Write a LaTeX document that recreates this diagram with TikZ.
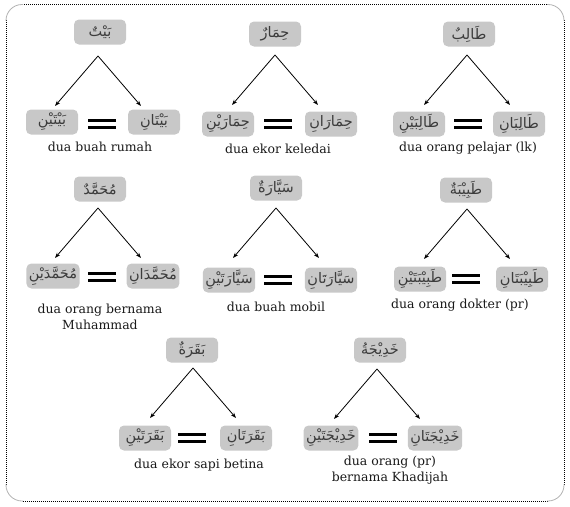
\documentclass[tikz,border=0pt]{standalone}
\usepackage{fontspec}
\setmainfont{DejaVu Serif}
\newfontfamily\arabicfont[Script=Arabic]{DejaVu Sans}
\TeXXeTstate=1
\usetikzlibrary{arrows.meta}
\definecolor{boxgray}{RGB}{200,200,200}
\definecolor{arabgray}{RGB}{60,60,60}
\tikzset{
  wordbox/.style={fill=boxgray, rounded corners=5pt, minimum width=52pt, minimum height=25pt,
    inner sep=2.5pt, text=arabgray, font=\arabicfont\fontsize{14.5}{16}\selectfont},
  arr/.style={-{Stealth[length=5.5pt,width=4pt]}, line width=0.8pt},
  caption/.style={font=\fontsize{12.5}{15.5}\selectfont, align=center, text=black!90, inner sep=0pt},
  eqsign/.style={minimum width=27pt, minimum height=9pt, inner sep=0pt},
  framedots/.style={line width=0.8pt, dash pattern=on 0.8pt off 1.2pt},
  framecorner/.style={line width=0.8pt, black!30}
}
% #1 id, #2 top pos, #3 apex, #4 left pos, #5 right pos, #6 equals pos, #7 top, #8 left, #9 right
\newcommand{\dualgrp}[9]{%
  \node[wordbox] (#1t) at #2 {\beginR #7\endR};
  \coordinate (#1a) at #3;
  \path (#1a) ++(-43,50) coordinate (#1la);
  \path (#1a) ++(43,50) coordinate (#1ra);
  \node[wordbox] (#1l) at #4 {\beginR #8\endR};
  \node[wordbox] (#1r) at #5 {\beginR #9\endR};
  \node[eqsign] (#1e) at #6 {};
  \fill (#1e.north west) rectangle ([yshift=-2.7pt]#1e.north east);
  \fill ([yshift=2.7pt]#1e.south west) rectangle (#1e.south east);
  \draw[arr] (#1a) -- (#1la);
  \draw[arr] (#1a) -- (#1ra);
}
\begin{document}
\begin{tikzpicture}[x=1pt,y=-1pt]
\useasboundingbox (0,0) rectangle (570,506);
% frame
\draw[framedots] (22,4.5) -- (548,4.5);
\draw[framedots] (564,20) -- (564,485);
\draw[framedots] (548,501) -- (22,501);
\draw[framedots] (6,485) -- (6,20);
\draw[framecorner, rounded corners=16pt] (6,21) -- (6,4.5) -- (23,4.5);
\draw[framecorner, rounded corners=16pt] (547,4.5) -- (564,4.5) -- (564,21);
\draw[framecorner, rounded corners=16pt] (564,484) -- (564,501) -- (547,501);
\draw[framecorner, rounded corners=16pt] (23,501) -- (6,501) -- (6,484);

\dualgrp{g1}{(100,32)}{(98,56)}{(52,122)}{(154,122)}{(102,124)}{بَيْتٌ}{بَيْتَيْنِ}{بَيْتَانِ}
\node[caption] (c1) at (100,147) {dua buah rumah};

\dualgrp{g2}{(275,34)}{(275,55)}{(228,124)}{(331,124)}{(278,124)}{حِمَارٌ}{حِمَارَيْنِ}{حِمَارَانِ}
\node[caption] (c2) at (278,149) {dua ekor keledai};

\dualgrp{g3}{(469,34)}{(467,55)}{(419,124)}{(519,124)}{(468,124)}{طَالِبٌ}{طَالِبَيْنِ}{طَالِبَانِ}
\node[caption] (c3) at (468,148) {dua orang pelajar (lk)};

\dualgrp{g4}{(100,189)}{(98,208)}{(53,276)}{(153,276)}{(102,277)}{مُحَمَّدٌ}{مُحَمَّدَيْنِ}{مُحَمَّدَانِ}
\node[caption] (c4) at (100,317) {dua orang bernama\\Muhammad};

\dualgrp{g5}{(276,188)}{(276,208)}{(229,280)}{(331,280)}{(278,280)}{سَيَّارَةٌ}{سَيَّارَتَيْنِ}{سَيَّارَتَانِ}
\node[caption] (c5) at (276,307) {dua buah mobil};

\dualgrp{g6}{(466,190)}{(467,209)}{(420,279)}{(522,279)}{(466,279)}{طَبِيْبَةٌ}{طَبِيْبَتَيْنِ}{طَبِيْبَتَانِ}
\node[caption] (c6) at (460,305) {dua orang dokter (pr)};

\dualgrp{g7}{(192,350)}{(193,368)}{(145,438)}{(246,438)}{(192,438)}{بَقَرَةٌ}{بَقَرَتَيْنِ}{بَقَرَتَانِ}
\node[caption] (c7) at (199,465) {dua ekor sapi betina};

\dualgrp{g8}{(380,350)}{(377,369)}{(331,438)}{(435,438)}{(383,438)}{خَدِيْجَةُ}{خَدِيْجَتَيْنِ}{خَدِيْجَتَانِ}
\node[caption] (c8) at (390,470) {dua orang (pr)\\bernama Khadijah};
\end{tikzpicture}
\end{document}
